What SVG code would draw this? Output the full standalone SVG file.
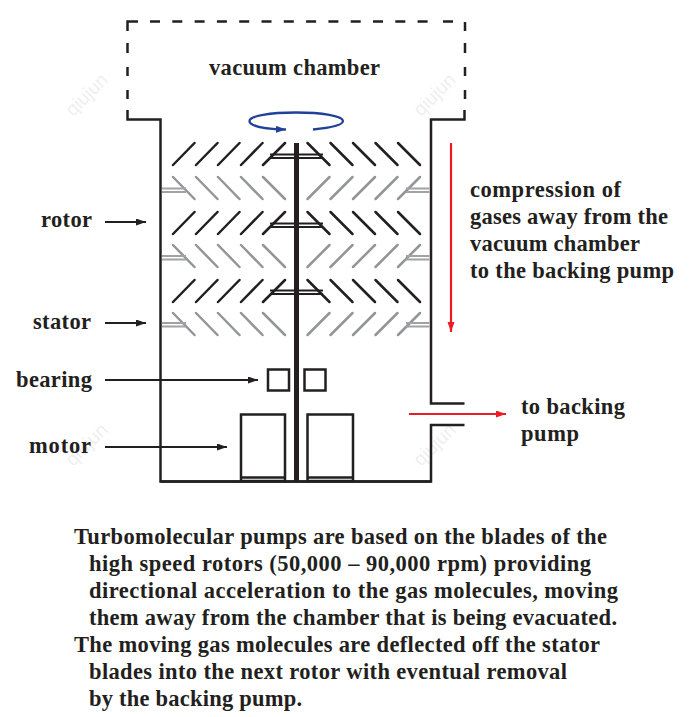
<svg xmlns="http://www.w3.org/2000/svg" xmlns:xlink="http://www.w3.org/1999/xlink" width="697" height="717" viewBox="0 0 697 717">
<style>
text{font-family:"Liberation Serif","DejaVu Serif",serif;font-weight:700;font-size:22.5px;fill:#231f20}
.wm{font-family:"Liberation Sans",sans-serif;font-weight:400;font-size:19px;fill:#efefef}
.w{fill:none;stroke:#231f20;stroke-width:2.5}
.d{fill:none;stroke:#231f20;stroke-width:2.5}
.r{stroke:#231f20;stroke-width:2.5;stroke-linecap:round;fill:none}
.s{stroke:#939598;stroke-width:2.5;stroke-linecap:round;fill:none}
.ra{stroke:#231f20;stroke-width:1.9;fill:none}
.sa{stroke:#a0a2a5;stroke-width:2.2;fill:none}
.b{fill:#fff;stroke:#231f20;stroke-width:2.5}
.a{stroke:#231f20;stroke-width:1.9;fill:none;marker-end:url(#k)}
.red{stroke:#ed1c24;stroke-width:2.2;fill:none;marker-end:url(#rd)}
</style>
<defs>
<marker id="k" markerUnits="userSpaceOnUse" markerWidth="11" markerHeight="8" refX="10" refY="3.5" orient="auto"><path d="M0 0L10 3.500L0 7z" fill="#231f20"/></marker>
<marker id="rd" markerUnits="userSpaceOnUse" markerWidth="11" markerHeight="8" refX="10" refY="3.5" orient="auto"><path d="M0 0L10 3.500L0 7z" fill="#ed1c24"/></marker>
<marker id="bl" markerUnits="userSpaceOnUse" markerWidth="11" markerHeight="8" refX="10" refY="3.5" orient="auto"><path d="M0 0L10 3.500L0 7z" fill="#21409a"/></marker>
<path id="rl" d="M173 22L194.500 0M196 22L217.500 0M218 22L239.500 0M241 22L262.500 0M263 22L285 0"/>
<path id="rr" d="M307.500 0L329.500 22M330.500 0L352.500 22M353 0L375 22M375.500 0L397.500 22M398 0L420 22"/>
<path id="sl" d="M173 0L194.500 22M196 0L217.500 22M218 0L239.500 22M241 0L262.500 22M263 0L285 22"/>
<path id="sr" d="M307.500 22L329.500 0M330.500 22L352.500 0M353 22L375 0M375.500 22L397.500 0M398 22L420 0"/>
</defs>
<rect width="697" height="717" fill="#fff"/>
<g id="watermarks">
<text class="wm" transform="translate(73 117) rotate(-45)">qiujun</text>
<text class="wm" transform="translate(421 117) rotate(-45)">qiujun</text>
<text class="wm" transform="translate(73 467) rotate(-45)">qiujun</text>
<text class="wm" transform="translate(421 467) rotate(-45)">qiujun</text>
</g>
<g id="vacuum-chamber">
<path class="d" d="M127.500 31V21.500H138M150 21.500H160M172.300 21.500H182.300M194.600 21.500H204.600M216.900 21.500H226.900M239.200 21.500H249.200M261.500 21.500H271.500M283.800 21.500H293.800M306.100 21.500H316.100M328.400 21.500H338.400M350.700 21.500H360.700M373 21.500H383M395.300 21.500H405.300M417.600 21.500H427.600M443 21.500H453M127.500 43V53M127.500 67V76M127.500 90V99M465 22V31M465 43V53M465 67V76M465 90V99"/>
<path class="w" d="M127.500 110V119.500H160.500V481.500H431V425H464.500M464.500 403.500H431V119.500H464.500V110"/>
<text x="209" y="75" textLength="171">vacuum chamber</text>
</g>
<g id="rotor-blades">
<use xlink:href="#rl" y="143" class="r"/><use xlink:href="#rr" y="143" class="r"/>
<use xlink:href="#rl" y="212" class="r"/><use xlink:href="#rr" y="212" class="r"/>
<use xlink:href="#rl" y="280" class="r"/><use xlink:href="#rr" y="280" class="r"/>
<path class="ra" d="M270 154.500H323M270 158H323M270 223.500H323M270 227H323M270 290.500H323M270 294H323"/>
</g>
<g id="stator-blades">
<use xlink:href="#sl" y="177" class="s"/><use xlink:href="#sr" y="177" class="s"/>
<use xlink:href="#sl" y="245" class="s"/><use xlink:href="#sr" y="245" class="s"/>
<use xlink:href="#sl" y="313" class="s"/><use xlink:href="#sr" y="313" class="s"/>
<path class="sa" d="M162 188.500H186M162 192H186M162 256H186M162 259.500H186M162 323H186M162 326.500H186M406 188.500H429.500M406 192H429.500M406 256H429.500M406 259.500H429.500M406 323H429.500M406 326.500H429.500"/>
</g>
<g id="shaft"><rect x="294" y="143" width="5" height="338" fill="#231f20"/></g>
<g id="bearing">
<rect class="b" x="268" y="369.500" width="21" height="21"/>
<rect class="b" x="304.500" y="369.500" width="21" height="21"/>
</g>
<g id="motor">
<path class="b" d="M241 481V414.500H285V481z"/><path class="w" d="M241 477.500H285"/>
<path class="b" d="M307.500 481V414.500H353V481z"/><path class="w" d="M307.500 477.500H353"/>
</g>
<path class="w" d="M160.500 481.500H431"/>
<g id="connectors">
<path class="a" d="M105 222H146"/>
<path class="a" d="M105 323H146"/>
<path class="a" d="M105 380H258"/>
<path class="a" d="M105 447H227"/>
<path class="red" d="M451 143V332"/>
<path class="red" d="M409 414H506"/>
<path d="M313 129.500C333 127.500 343 125 343 121C343 116 322 112.500 296 112.500C270 112.500 249.500 116 249.500 121C249.500 125.500 262 129 286 129.500" fill="none" stroke="#21409a" stroke-width="2.3" marker-end="url(#bl)"/>
</g>
<g id="labels">
<text x="41" y="227" textLength="51">rotor</text>
<text x="33" y="329" textLength="58">stator</text>
<text x="16" y="387" textLength="76">bearing</text>
<text x="29" y="453" textLength="62">motor</text>
<text x="470" y="197" textLength="151">compression of</text>
<text x="470" y="224" textLength="198">gases away from the</text>
<text x="470" y="251" textLength="170">vacuum chamber</text>
<text x="470" y="278" textLength="204">to the backing pump</text>
<text x="521" y="414" textLength="104">to backing</text>
<text x="521" y="441" textLength="58">pump</text>
</g>
<g id="caption">
<text x="74" y="544" textLength="533">Turbomolecular pumps are based on the blades of the</text>
<text x="89" y="571" textLength="502">high speed rotors (50,000 – 90,000 rpm) providing</text>
<text x="89" y="598" textLength="529">directional acceleration to the gas molecules, moving</text>
<text x="89" y="625" textLength="528">them away from the chamber that is being evacuated.</text>
<text x="74" y="652" textLength="526">The moving gas molecules are deflected off the stator</text>
<text x="89" y="679" textLength="478">blades into the next rotor with eventual removal</text>
<text x="89" y="706" textLength="213">by the backing pump.</text>
</g>
</svg>
